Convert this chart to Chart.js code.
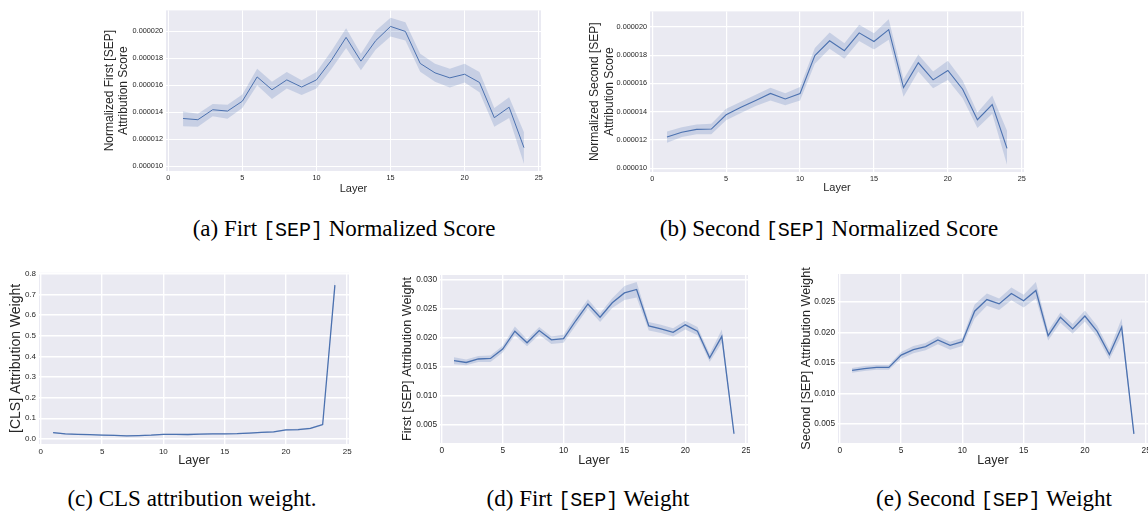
<!DOCTYPE html>
<html>
<head>
<meta charset="utf-8">
<script src="https://cdn.jsdelivr.net/npm/chart.js@4.4.0/dist/chart.umd.min.js"></script>
<style>
  html, body { margin:0; padding:0; background:#fff; width:1148px; height:512px; overflow:hidden; position:relative; }
  .clip { position:absolute; overflow:hidden; }
  canvas { position:absolute; display:block; }
  .cap { position:absolute; width:440px; text-align:center; white-space:nowrap; color:#000;
         font-family:'Liberation Serif','Times New Roman',serif; font-size:23px; line-height:23px; }
  .cap .tt { font-family:'Liberation Mono','DejaVu Sans Mono',monospace; font-size:20px; }
</style>
</head>
<body>
<div class="cap" style="left:124px;top:217px">(a) Firt <span class="tt">[SEP]</span> Normalized Score</div>
<div class="cap" style="left:609px;top:217px">(b) Second <span class="tt">[SEP]</span> Normalized Score</div>
<div class="cap" style="left:-28px;top:487px">(c) CLS attribution weight.</div>
<div class="cap" style="left:368px;top:487px">(d) Firt <span class="tt">[SEP]</span> Weight</div>
<div class="cap" style="left:774px;top:487px">(e) Second <span class="tt">[SEP]</span> Weight</div>

<script>
/* layer index shared by every panel */
const LAYERS = [1,2,3,4,5,6,7,8,9,10,11,12,13,14,15,16,17,18,19,20,21,22,23,24];
const X_TICKS = [0,5,10,15,20,25];

// (a) normalized first [SEP] score: mean and band
const A_MEAN = [13.55e-6,13.46e-6,14.20e-6,14.10e-6,14.83e-6,16.63e-6,15.68e-6,16.41e-6,15.88e-6,16.41e-6,17.85e-6,19.56e-6,
                17.80e-6,19.32e-6,20.37e-6,20.00e-6,17.63e-6,16.93e-6,16.56e-6,16.83e-6,16.22e-6,13.61e-6,14.39e-6,11.39e-6];
const A_HI = [14.07e-6,13.90e-6,14.63e-6,14.56e-6,15.32e-6,17.24e-6,16.27e-6,17.00e-6,16.39e-6,17.00e-6,18.54e-6,20.24e-6,
              18.34e-6,20.05e-6,21.02e-6,20.68e-6,18.34e-6,17.61e-6,17.24e-6,17.61e-6,17.00e-6,14.32e-6,15.12e-6,12.54e-6];
const A_LO = [12.98e-6,12.93e-6,13.71e-6,13.54e-6,14.32e-6,16.02e-6,15.00e-6,15.78e-6,15.29e-6,15.78e-6,17.20e-6,18.78e-6,
              17.12e-6,18.66e-6,19.63e-6,19.32e-6,17.02e-6,16.27e-6,15.85e-6,16.22e-6,15.49e-6,12.93e-6,13.59e-6,10.20e-6];
const A_YTICKS = [10e-6,12e-6,14e-6,16e-6,18e-6,20e-6];

// (b) normalized second [SEP] score
const B_MEAN = [12.21e-6,12.54e-6,12.75e-6,12.77e-6,13.78e-6,14.31e-6,14.80e-6,15.29e-6,14.90e-6,15.29e-6,17.97e-6,19.02e-6,
                18.32e-6,19.58e-6,18.97e-6,19.81e-6,15.71e-6,17.46e-6,16.25e-6,16.92e-6,15.59e-6,13.43e-6,14.50e-6,11.40e-6];
const B_HI = [12.60e-6,12.90e-6,13.10e-6,13.15e-6,14.20e-6,14.70e-6,15.20e-6,15.70e-6,15.30e-6,15.75e-6,18.50e-6,19.60e-6,
              18.85e-6,20.15e-6,19.55e-6,20.55e-6,16.30e-6,18.05e-6,16.85e-6,17.60e-6,16.20e-6,13.95e-6,15.15e-6,12.65e-6];
const B_LO = [11.80e-6,12.20e-6,12.40e-6,12.40e-6,13.40e-6,13.90e-6,14.40e-6,14.80e-6,14.45e-6,14.80e-6,17.40e-6,18.45e-6,
              17.75e-6,19.00e-6,18.40e-6,19.10e-6,15.05e-6,16.85e-6,15.65e-6,16.25e-6,14.95e-6,12.85e-6,13.85e-6,10.25e-6];
const B_YTICKS = [10e-6,12e-6,14e-6,16e-6,18e-6,20e-6];

// (c) [CLS] attribution weight
const C_MEAN = [0.030,0.024,0.022,0.020,0.018,0.017,0.014,0.016,0.018,0.022,0.022,0.021,
                0.023,0.024,0.024,0.025,0.028,0.031,0.034,0.043,0.045,0.051,0.069,0.745];
const C_HI = [0.033,0.027,0.025,0.023,0.021,0.020,0.017,0.019,0.021,0.025,0.025,0.024,
              0.026,0.027,0.027,0.028,0.031,0.034,0.037,0.047,0.049,0.055,0.073,0.770];
const C_LO = [0.027,0.021,0.019,0.017,0.015,0.014,0.011,0.013,0.015,0.019,0.019,0.018,
              0.020,0.021,0.021,0.022,0.025,0.028,0.031,0.039,0.041,0.047,0.065,0.725];
const C_YTICKS = [0,0.1,0.2,0.3,0.4,0.5,0.6,0.7,0.8];

// (d) first [SEP] attribution weight
const D_MEAN = [0.0161,0.0158,0.0164,0.0165,0.0181,0.0212,0.0192,0.0213,0.0197,0.0199,0.0230,0.0259,
                0.0236,0.0261,0.0278,0.0284,0.0221,0.0216,0.0210,0.0223,0.0212,0.0166,0.0203,0.0035];
const D_HI = [0.0167,0.0163,0.0169,0.0170,0.0187,0.0220,0.0198,0.0219,0.0203,0.0206,0.0238,0.0267,
              0.0243,0.0269,0.0290,0.0297,0.0228,0.0223,0.0217,0.0230,0.0219,0.0173,0.0215,0.0038];
const D_LO = [0.0155,0.0153,0.0159,0.0159,0.0175,0.0205,0.0186,0.0206,0.0190,0.0192,0.0222,0.0251,
              0.0228,0.0252,0.0266,0.0270,0.0213,0.0209,0.0203,0.0215,0.0205,0.0159,0.0192,0.0032];
const D_YTICKS = [0.005,0.010,0.015,0.020,0.025,0.030];

// (e) second [SEP] attribution weight
const E_MEAN = [0.0138,0.0141,0.0143,0.0143,0.0163,0.0172,0.0177,0.0188,0.0179,0.0185,0.0235,0.0254,
                0.0247,0.0264,0.0252,0.0269,0.0195,0.0225,0.0206,0.0227,0.0202,0.0164,0.0209,0.0034];
const E_HI = [0.0142,0.0145,0.0147,0.0147,0.0168,0.0178,0.0183,0.0194,0.0185,0.0191,0.0246,0.0264,
              0.0256,0.0274,0.0262,0.0283,0.0203,0.0233,0.0214,0.0236,0.0211,0.0172,0.0223,0.0037];
const E_LO = [0.0134,0.0137,0.0139,0.0139,0.0157,0.0166,0.0171,0.0181,0.0172,0.0178,0.0223,0.0244,
              0.0237,0.0253,0.0241,0.0256,0.0187,0.0216,0.0198,0.0218,0.0193,0.0156,0.0196,0.0031];
const E_YTICKS = [0.005,0.010,0.015,0.020,0.025];

const BLUE = '#4c72b0', BAND = 'rgba(76,114,176,0.22)', FACE = '#eaeaf2', INK = '#262626';
const SANS = "'Liberation Sans', Arial, sans-serif";

const facePlugin = {
  id: 'face',
  beforeDraw(c) {
    const a = c.chartArea, ctx = c.ctx;
    ctx.save(); ctx.fillStyle = FACE;
    ctx.fillRect(a.left, a.top, a.right - a.left, a.bottom - a.top);
    ctx.restore();
  }
};

const pts = ys => LAYERS.map((l, i) => ({ x: l, y: ys[i] }));

function panel(p) {
  const w = (p.r - p.l) + p.yw + p.pr, h = (p.b - p.t) + p.pt + p.xh;
  const cv = document.createElement('canvas');
  cv.width = w; cv.height = h;
  let host = document.body, left = p.l - p.yw, top = p.t - p.pt;
  if (p.clipRight) {
    host = document.createElement('div');
    host.className = 'clip';
    host.style.cssText = `left:${left}px;top:${top}px;width:${p.clipRight - left}px;height:${h}px`;
    document.body.appendChild(host);
    left = 0; top = 0;
  }
  cv.style.left = left + 'px'; cv.style.top = top + 'px';
  host.appendChild(cv);

  new Chart(cv, {
    type: 'line',
    data: { datasets: [
      { data: pts(p.hi), borderWidth: 0, pointRadius: 0, fill: false },
      { data: pts(p.lo), borderWidth: 0, pointRadius: 0, fill: '-1', backgroundColor: BAND },
      { data: pts(p.mean), borderColor: BLUE, borderWidth: p.lw, pointRadius: 0, tension: 0, fill: false },
    ] },
    options: {
      responsive: false, animation: false, devicePixelRatio: 1,
      layout: { padding: { top: p.pt, right: p.pr, left: 0, bottom: 0 } },
      plugins: { legend: { display: false }, tooltip: { enabled: false } },
      scales: {
        x: {
          type: 'linear', min: -0.15, max: 25.15,
          afterBuildTicks: s => { s.ticks = X_TICKS.map(v => ({ value: v })); },
          afterFit: s => { s.height = p.xh; },
          grid: { color: '#fff', lineWidth: p.gw, drawTicks: false },
          border: { display: false },
          ticks: { autoSkip: false, maxRotation: 0, padding: 3, color: INK, font: { family: SANS, size: p.tf },
                   callback: v => String(v) },
          title: { display: true, text: 'Layer', color: INK, padding: 0,
                   font: { family: SANS, size: p.xf, lineHeight: 1.2 } },
        },
        y: {
          min: p.ymin, max: p.ymax,
          afterBuildTicks: s => { s.ticks = p.yticks.map(v => ({ value: v })); },
          afterFit: s => { s.width = p.yw; },
          grid: { color: '#fff', lineWidth: p.gw, drawTicks: false },
          border: { display: false },
          ticks: { autoSkip: false, padding: 3, color: INK, font: { family: SANS, size: p.tf },
                   callback: v => v.toFixed(p.dec) },
          title: { display: true, text: p.ytitle, color: INK, padding: 0,
                   font: { family: SANS, size: p.yf, lineHeight: p.ylh } },
        }
      }
    },
    plugins: [facePlugin]
  });
}

panel({ l:166, r:541, t:9, b:171, yw:63, pt:6, pr:8, xh:25,
        mean:A_MEAN, hi:A_HI, lo:A_LO, yticks:A_YTICKS, ymin:9.66e-6, ymax:21.56e-6, dec:6,
        ytitle:['Normalized First [SEP]', 'Attribution Score'], yf:12, ylh:1.15, xf:11, tf:7.3, lw:1, gw:1 });
panel({ l:650, r:1024, t:10, b:172, yw:62, pt:6, pr:8, xh:23,
        mean:B_MEAN, hi:B_HI, lo:B_LO, yticks:B_YTICKS, ymin:9.73e-6, ymax:21.1e-6, dec:6,
        ytitle:['Normalized Second [SEP]', 'Attribution Score'], yf:12, ylh:1.19, xf:11, tf:7.3, lw:1.1, gw:1.2 });
panel({ l:39, r:349, t:271, b:444, yw:31, pt:6, pr:8, xh:24,
        mean:C_MEAN, hi:C_HI, lo:C_LO, yticks:C_YTICKS, ymin:-0.025, ymax:0.805, dec:1,
        ytitle:'[CLS] Attribution Weight', yf:14, ylh:1.2, xf:12.5, tf:8, lw:1.3, gw:1.4 });
panel({ l:440, r:748, t:273, b:443, yw:40, pt:6, pr:8, xh:25, clipRight:750,
        mean:D_MEAN, hi:D_HI, lo:D_LO, yticks:D_YTICKS, ymin:0.0019, ymax:0.0309, dec:3,
        ytitle:'First [SEP] Attribution Weight', yf:12.7, ylh:1.2, xf:12.5, tf:8.3, lw:1.3, gw:1.4 });
panel({ l:838, r:1148, t:272, b:443, yw:39, pt:6, pr:8, xh:25,
        mean:E_MEAN, hi:E_HI, lo:E_LO, yticks:E_YTICKS, ymin:0.0019, ymax:0.0296, dec:3,
        ytitle:'Second [SEP] Attribution Weight', yf:12.7, ylh:1.2, xf:12.5, tf:8.3, lw:1.3, gw:1.4 });
</script>
</body>
</html>
